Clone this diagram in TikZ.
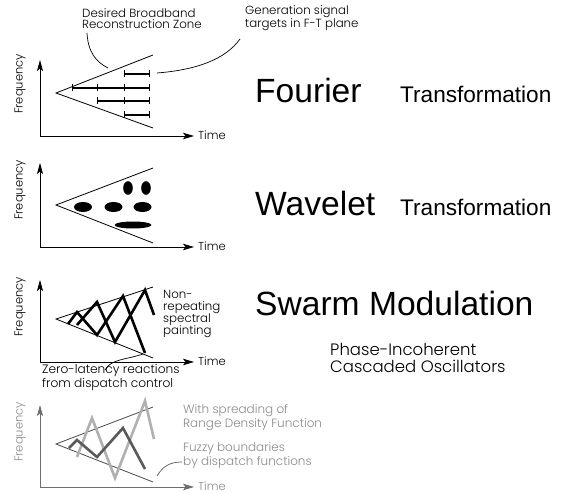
\documentclass[tikz,border=0pt]{standalone}
\usepackage{fontspec}
\setmainfont{Poppins Light}
\newfontfamily\titlefont{Liberation Sans}
\usetikzlibrary{arrows.meta}
\definecolor{axgray}{HTML}{6E6E6E}
\definecolor{txtgray}{HTML}{8A8A8A}
\definecolor{zonegray}{HTML}{4A4A4A}
\definecolor{darkzig}{HTML}{5A5A5A}
\definecolor{lightzig}{HTML}{B0B0B0}
\begin{document}
\begin{tikzpicture}[x=1pt,y=-1pt,
  axis/.style={line width=0.8pt,
    {Stealth[length=11pt,width=6pt,inset=2.5pt]}-{Stealth[length=11pt,width=6.5pt,inset=2.5pt]}},
  zone/.style={line width=0.8pt},
  bar/.style={line width=2.2pt},
  tickmark/.style={line width=0.9pt},
  zig/.style={line width=2.6pt, line join=miter},
  leader/.style={line width=0.7pt},
  lab/.style={inner sep=0pt, align=left, font=\fontsize{11.8}{11}\selectfont},
  ttl/.style={inner sep=0pt, font=\titlefont\fontsize{33.6}{34}\selectfont},
  subttl/.style={inner sep=0pt, font=\titlefont\fontsize{22.6}{22.6}\selectfont},
  axlab/.style={inner sep=0pt, font=\fontsize{11.5}{11.5}\selectfont},
  blob/.style={fill=black, draw=none}
]
\useasboundingbox (0,0) rectangle (564,494);

% ---------- panel 1: Fourier ----------
\coordinate (o1) at (40,136);
\coordinate (fy1) at (40,60);
\coordinate (ft1) at (194,136);
\draw[axis] (fy1) -- (o1) -- (ft1);
\node[axlab, anchor=west] (time1) at (198,135) {Time};
\node[axlab, rotate=90] (freq1) at (20,84) {Frequency};
\draw[zone] (153,55) -- (56,93) -- (153,128);
% generation targets
\draw[bar] (124,74) -- (149,74);
\draw[bar] (72,88) -- (149,88);
\draw[bar] (97,101) -- (149,101);
\draw[bar] (124,115) -- (149,115);
\foreach \x/\y in {124/74,149/74,72/88,97/88,124/88,149/88,97/101,124/101,149/101,124/115,149/115}
  \draw[tickmark] (\x,\y-3.5) -- (\x,\y+3.5);
% multi-line labels are placed by the baseline of their last line
\node[lab, anchor=base west] (zonelab) at (82,29) {Desired Broadband\\Reconstruction Zone};
\node[lab, anchor=base west] (genlab) at (245,28) {Generation signal\\targets in F-T plane};
\coordinate (zoneA) at (87,33);
\coordinate (zoneB) at (108,68);
\coordinate (genA) at (240,39);
\coordinate (genB) at (157,73);
\draw[leader] (zoneA) .. controls (88,52) and (96,62) .. (zoneB);
\draw[leader] (genA) .. controls (225,60) and (195,70) .. (genB);
\node[ttl, anchor=base west] (fourier) at (255,103) {Fourier};
\node[subttl, anchor=base west] (trans1) at (400,103) {Transformation};

% ---------- panel 2: Wavelet ----------
\coordinate (o2) at (40,247);
\coordinate (fy2) at (40,163);
\coordinate (ft2) at (194,247);
\draw[axis] (fy2) -- (o2) -- (ft2);
\node[axlab, anchor=west] (time2) at (198,246) {Time};
\node[axlab, rotate=90] (freq2) at (20,190) {Frequency};
\draw[zone] (153,168) -- (56,205) -- (153,243);
\fill[blob] (128,188) ellipse [x radius=4.8, y radius=6.8];
\fill[blob] (146,188) ellipse [x radius=4.8, y radius=6.8];
\fill[blob] (83,207) ellipse [x radius=9, y radius=5];
\fill[blob] (113.5,207) ellipse [x radius=9, y radius=5];
\fill[blob] (142.5,207) ellipse [x radius=9, y radius=5];
\fill[blob] (133,225) ellipse [x radius=18.5, y radius=3.5];
\node[ttl, anchor=base west] (wavelet) at (255,215) {Wavelet};
\node[subttl, anchor=base west] (trans2) at (400,215) {Transformation};

% ---------- panel 3: Swarm Modulation ----------
\coordinate (o3) at (40,362);
\coordinate (fy3) at (40,280);
\coordinate (ft3) at (194,362);
\draw[axis] (fy3) -- (o3) -- (ft3);
\node[axlab, anchor=west] (time3) at (198,361) {Time};
\node[axlab, rotate=90] (freq3) at (20,307) {Frequency};
\draw[zone] (153,287) -- (56,319) -- (153,358);
\draw[zig] (68,324) -- (77,312) -- (97,335) -- (123,296) -- (145,353);
\draw[zig] (77,325) -- (97,302) -- (115,342) -- (145,290) -- (154,315);
\node[lab, anchor=base west, font=\fontsize{11.8}{12}\selectfont] (paintlab) at (163,334)
  {Non-\\repeating\\spectral\\painting};
\node[lab, anchor=base west, font=\fontsize{12.2}{11}\selectfont] (reactlab) at (42,387)
  {Zero-latency reactions\\from dispatch control};
\coordinate (reactA) at (105,370);
\coordinate (reactB) at (143,354);
\draw[leader] (reactA) .. controls (111,359) and (125,360) .. (reactB);
\node[ttl, anchor=base west] (swarm) at (255,315) {Swarm Modulation};
\node[lab, anchor=base west, font=\fontsize{16.5}{16.5}\selectfont] (phaselab) at (330,372)
  {Phase-Incoherent\\Cascaded Oscillators};

% ---------- panel 4: spread ----------
\coordinate (o4) at (40,487);
\coordinate (fy4) at (40,405);
\coordinate (ft4) at (194,487);
\draw[axis, axgray] (fy4) -- (o4) -- (ft4);
\node[axlab, anchor=west, text=txtgray] (time4) at (198,486) {Time};
\node[axlab, rotate=90, text=txtgray] (freq4) at (20,432) {Frequency};
\draw[zone, zonegray] (153,407) -- (56,444) -- (153,482);
\draw[zig, lightzig] (77,457) -- (92,418) -- (115,478) -- (145,401) -- (154,439);
\draw[zig, darkzig] (69,448) -- (77,440) -- (97,457) -- (123,428) -- (145,469);
\node[lab, anchor=base west, text=txtgray, font=\fontsize{12}{10.5}\selectfont] (spreadlab) at (183,427)
  {With spreading of\\Range Density Function};
\node[lab, anchor=base west, text=txtgray, font=\fontsize{12}{11}\selectfont] (fuzzylab) at (183,465)
  {Fuzzy boundaries\\by dispatch functions};
\coordinate (fuzzyA) at (157,476);
\coordinate (fuzzyB) at (182,462);
\draw[leader, darkzig] (fuzzyA) .. controls (163,466) and (170,462) .. (fuzzyB);
\end{tikzpicture}
\end{document}
